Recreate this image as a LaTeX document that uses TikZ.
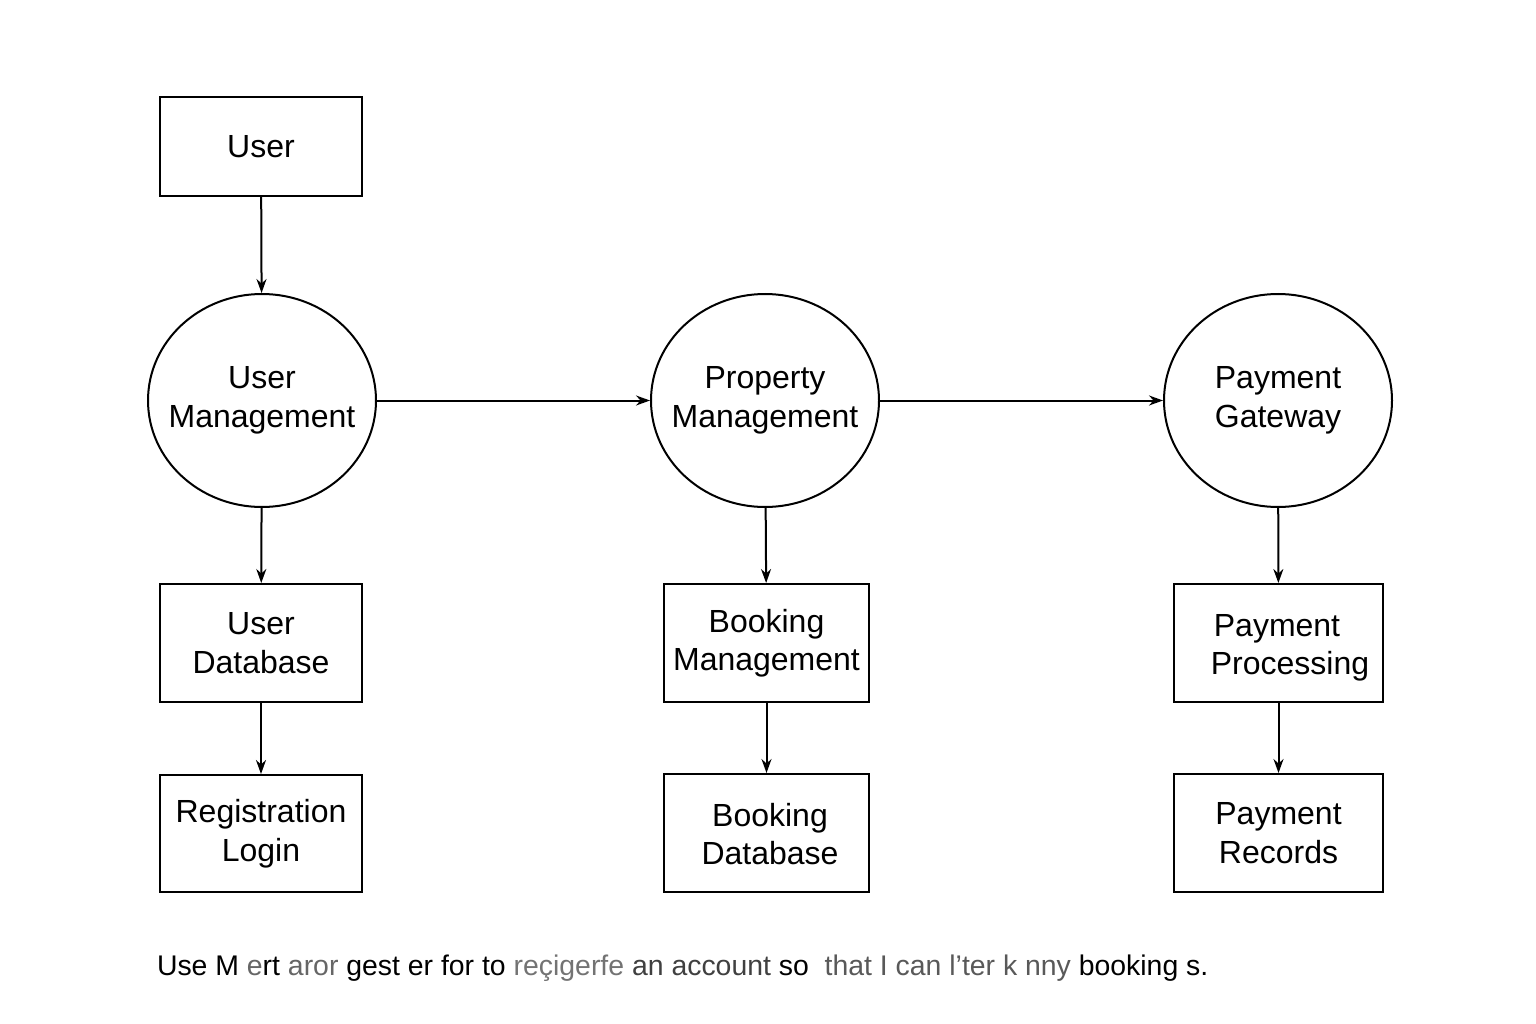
\documentclass[tikz,border=0pt]{standalone}
\usepackage{fontspec}
\setmainfont{Liberation Sans}
\usetikzlibrary{arrows.meta,shapes.geometric}
\begin{document}
\begin{tikzpicture}[x=1pt,y=-1pt,
  every node/.style={font=\fontsize{32}{38.5}\selectfont, align=center, line width=2pt, inner sep=0pt},
  box/.style={draw, minimum width=202pt, minimum height=118pt},
  proc/.style={draw, ellipse, minimum width=228pt, minimum height=213pt},
  flow/.style={line width=2pt, -{Stealth[length=14pt,width=10pt]}}
]
\useasboundingbox (0,0) rectangle (1536,1024);
\node[box, minimum height=99pt] (user) at (261,146.5) {User};
\node[proc] (um) at (262,400.5) {};
\node (umt) at (um) {User\\Management};
\node[proc] (pm) at (765,400.5) {};
\node (pmt) at (pm) {Property\\Management};
\node[proc] (pg) at (1278,400.5) {};
\node (pgt) at (pg) {Payment\\Gateway};
\node[box] (udb) at (261,643) {User\\Database};
\node[box, minimum height=117pt] (reg) at (261,833.5) {Registration\\Login};
\node[box, minimum width=205pt] (bm) at (766.5,643) {Booking\\Management};
\node[box, minimum width=205pt] (bdb) at (766.5,833) {};
\node (bdbt) at (770,834) {Booking\\Database};
\node[box, minimum width=209pt] (pp) at (1278.5,643) {};
\node[align=left] (ppt) at (1290,648) {\hspace{3pt}Payment\\Processing};
\node[box, minimum width=209pt] (pr) at (1278.5,833) {Payment\\Records};
\draw[flow] (user) -- (um);
\draw[flow] (um) -- (pm);
\draw[flow] (pm) -- (pg);
\draw[flow] (um) -- (udb);
\draw[flow] (udb) -- (reg);
\draw[flow] (pm) -- (bm);
\draw[flow] (bm) -- (bdb);
\draw[flow] (pg) -- (pp);
\draw[flow] (pp) -- (pr);
\node[anchor=base west, font=\fontsize{28.4}{34}\selectfont] (cap) at (156,975) {Use M \textcolor{black!60}{e}rt \textcolor{black!60}{aror} gest er for to \textcolor{black!55}{reçigerfe} \textcolor{black!75}{an account} so\ \ \textcolor{black!65}{that I can l'ter k nny} booking s.};
\end{tikzpicture}
\end{document}
